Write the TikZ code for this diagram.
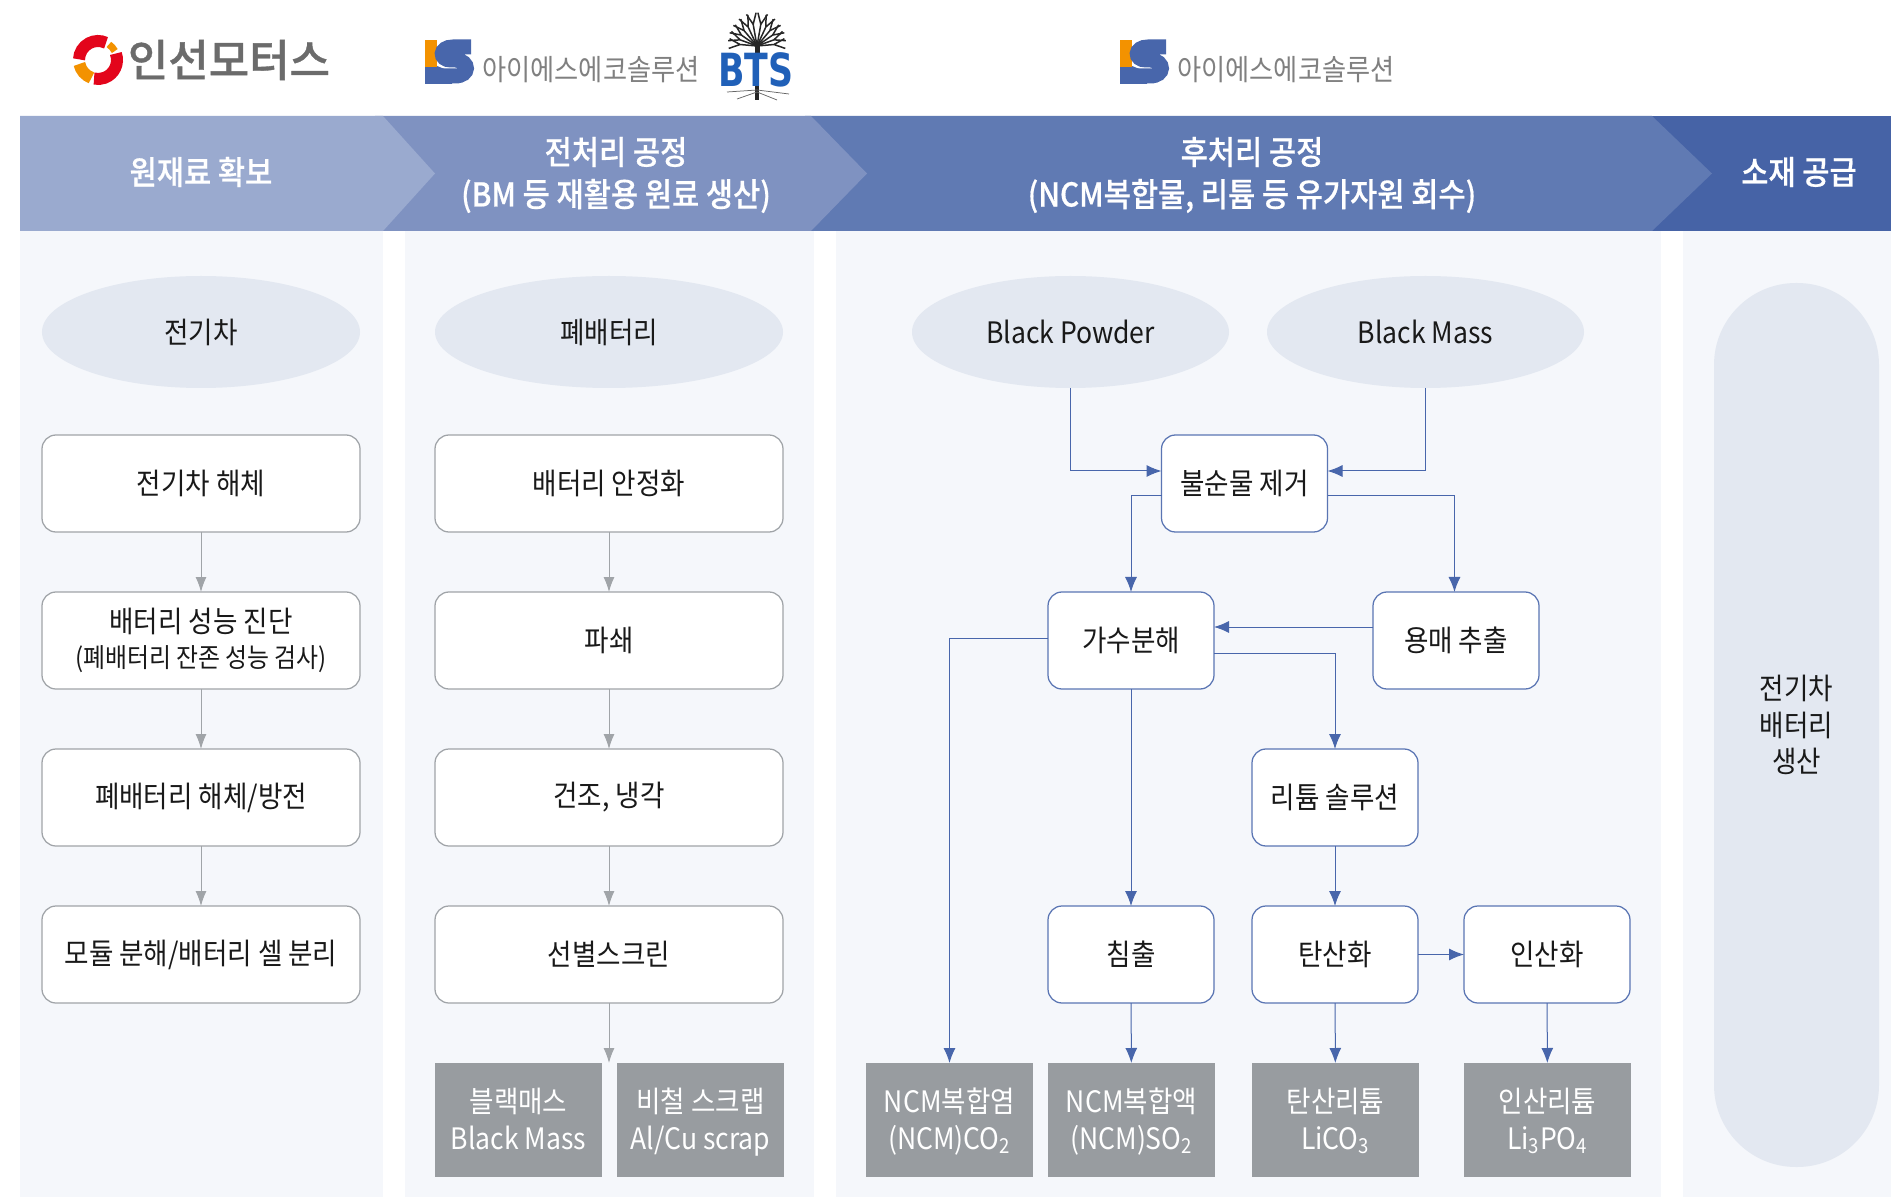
\documentclass[tikz,border=0pt]{standalone}
\usepackage{fontspec}
\setmainfont{Noto Sans CJK KR}[FakeStretch=0.9]
\newfontfamily\medfont{Noto Sans CJK KR Medium}[FakeStretch=0.9, FakeBold=0.5]
\newfontfamily\logofont{Noto Sans CJK KR Medium}[FakeStretch=1.0, FakeBold=0.8]
\newfontfamily\btsfont{DejaVu Sans}[FakeStretch=0.76]
\usetikzlibrary{positioning}
\usetikzlibrary{shapes.geometric}
\usetikzlibrary{arrows.meta}

\definecolor{headone}{HTML}{9AAACF}
\definecolor{headtwo}{HTML}{7F92C1}
\definecolor{headthree}{HTML}{607AB3}
\definecolor{headfour}{HTML}{4663A6}
\definecolor{panelbg}{HTML}{F5F7FB}
\definecolor{ovalbg}{HTML}{E3E8F1}
\definecolor{flowblue}{HTML}{4866AB}
\definecolor{flowgray}{HTML}{A0A4A8}
\definecolor{matgray}{HTML}{989CA0}
\definecolor{logored}{HTML}{E3051B}
\definecolor{logoorange}{HTML}{F39200}
\definecolor{btsblue}{HTML}{2060B8}

\newcommand{\matlines}[2]{\rule{0pt}{18.7pt}#1\\\strut #2}

\begin{document}
\begin{tikzpicture}[x=0.2mm, y=0.2mm,
                    bodytext/.style={font=\fontsize{16.8pt}{21pt}\selectfont, text=black!90, align=center, inner sep=0pt, outer sep=0pt},
                    headtext/.style={font=\medfont\fontsize{18.7pt}{24pt}\selectfont, text=white, align=center, inner sep=0pt},
                    oval/.style={bodytext, ellipse, fill=ovalbg, minimum height=22.4mm},
                    graybox/.style={bodytext, draw=flowgray, fill=white, line width=.25mm, rounded corners=2.8mm, minimum height=19.4mm},
                    bluebox/.style={bodytext, draw=flowblue!90!white, fill=white, line width=.25mm, rounded corners=2.8mm, minimum height=19.4mm, minimum width=33.2mm},
                    matbox/.style={font=\fontsize{16.8pt}{21pt}\selectfont, text=white, align=center, inner sep=0pt, outer sep=0pt, fill=matgray, minimum width=33.4mm, minimum height=22.8mm},
                    grayline/.style={draw=flowgray, line width=.2mm, -{Latex[length=3mm,width=2.2mm]}},
                    blueline/.style={draw=flowblue, line width=.2mm, -{Latex[length=3mm,width=2.4mm]}},
                    islogo/.pic={
                        \fill[flowblue] (425,-66) -- (437,-66) -- (452,-72) -- (452,-84) -- (425,-84) -- cycle;
                        \fill[logoorange] (425,-40) rectangle (437,-67);
                        \draw[flowblue, line width=3mm] (471,-47) -- (453,-47) .. controls (439,-47) and (439,-60) .. (451,-60) -- (456,-60) .. controls (470,-61) and (470,-76) .. (455,-76) -- (436,-76);
                        \node[font=\fontsize{16.6pt}{18pt}\selectfont, text=black!50, inner sep=0pt] at (591,-70) {아이에스에코솔루션};
                    }]
    \useasboundingbox (0,0) rectangle (1891,-1197);
    % panels
    \fill[panelbg] (20,-231) rectangle (383,-1197);
    \fill[panelbg] (405,-231) rectangle (814,-1197);
    \fill[panelbg] (836,-231) rectangle (1661,-1197);
    \fill[panelbg] (1683,-231) rectangle (1891,-1197);
    % header arrows
    \fill[headfour] (1650,-116) rectangle (1891,-231);
    \fill[headthree] (805,-116) -- (1652,-116) -- (1712,-173.5) -- (1652,-231) -- (805,-231) -- cycle;
    \fill[headtwo] (375,-116) -- (811,-116) -- (867,-173.5) -- (811,-231) -- (375,-231) -- cycle;
    \fill[headone] (20,-116) -- (383,-116) -- (435,-173.5) -- (383,-231) -- (20,-231) -- cycle;
    \node[headtext] (headraw)  at (201,-172)  {원재료 확보};
    \node[headtext] (headpre)  at (616,-175)  {전처리 공정\\(BM 등 재활용 원료 생산)};
    \node[headtext] (headpost) at (1252,-175) {후처리 공정\\(NCM복합물, 리튬 등 유가자원 회수)};
    \node[headtext] (headsup)  at (1799,-172) {소재 공급};
    % logos
    \draw[logored, line width=2.4mm] (98,-60) ++(178:19) arc[start angle=178, end angle=65, radius=3.8mm];
    \draw[logored, line width=2.4mm] (98,-60) ++(20:19) arc[start angle=20, end angle=-102, radius=3.8mm];
    \draw[logoorange, line width=2.4mm] (98,-60) ++(192:19) arc[start angle=192, end angle=250, radius=3.8mm];
    \draw[logoorange, line width=1.4mm] (98,-60) ++(55:19) arc[start angle=55, end angle=28, radius=3.8mm];
    \node[font=\logofont\fontsize{25pt}{28pt}\selectfont, text=black!58, inner sep=0pt] (insun) at (229,-60) {인선모터스};
    \pic at (0,0) {islogo};
    \pic at (695,0) {islogo};
    \foreach \a/\r in {5/17,20/18,35/19,50/20,65/21,80/22,100/22,115/21,130/20,145/19,160/18,175/17}
        \draw[black!85, line width=.3mm] (757,-46) -- ++(\a:\r) -- ++(\a+24:12) ++(\a+24:-12) -- ++(\a-24:12);
    \draw[black!85, line width=1mm] (757,-53) -- (757,-44);
    \node[font=\btsfont\bfseries\fontsize{26pt}{28pt}\selectfont, text=btsblue, inner sep=0pt] (bts) at (756,-70) {BTS};
    \draw[black!85, line width=.9mm] (757,-86) -- (757,-100);
    \draw[black!60, line width=.15mm] (757,-90) -- (727,-92) (757,-90) -- (789,-94) (757,-92) -- (737,-99) (757,-92) -- (777,-100);
    % first column
    \node[oval, minimum width=63.6mm] (ev) at (201,-332) {전기차};
    \node[graybox, minimum width=63.6mm] (evcut) at (201,-483.5) {전기차 해체};
    \node[graybox, minimum width=63.6mm] (diag) [below=12mm of evcut] {배터리 성능 진단\\[-1pt]{\fontsize{15.1pt}{19pt}\selectfont (폐배터리 잔존 성능 검사)}};
    \node[graybox, minimum width=63.6mm] (disch) [below=12mm of diag] {폐배터리 해체/방전};
    \node[graybox, minimum width=63.6mm] (cell) [below=12mm of disch] {모듈 분해/배터리 셀 분리};
    % second column
    \node[oval, minimum width=69.6mm] (waste) at (609,-332) {폐배터리};
    \node[graybox, minimum width=69.6mm] (stable) at (609,-483.5) {배터리 안정화};
    \node[graybox, minimum width=69.6mm] (crush) [below=12mm of stable] {파쇄};
    \node[graybox, minimum width=69.6mm] (dry) [below=12mm of crush] {건조, 냉각};
    \node[graybox, minimum width=69.6mm] (screen) [below=12mm of dry] {선별스크린};
    \node[matbox] (bm) at (518.5,-1120) {\matlines{블랙매스}{Black Mass}};
    \node[matbox] (scrap) [right=3mm of bm] {\matlines{비철 스크랩}{Al/Cu scrap}};
    % third column
    \node[oval, minimum width=63.4mm] (powder) at (1070.5,-332) {Black Powder};
    \node[oval, minimum width=63.4mm] (mass) at (1425.5,-332) {Black Mass};
    \node[bluebox] (remove) at (1244.5,-483.5) {불순물 제거};
    \node[bluebox] (hydro) at (1131,-640.5) {가수분해};
    \node[bluebox] (solvent) at (1456,-640.5) {용매 추출};
    \node[bluebox] (lisol) at (1335,-797.5) {리튬 솔루션};
    \node[bluebox] (leach) at (1131,-954.5) {침출};
    \node[bluebox] (carbon) [below=12mm of lisol] {탄산화};
    \node[bluebox] (phos) [right=9.2mm of carbon] {인산화};
    \node[matbox] (ncmsalt) at (949.5,-1120) {\matlines{NCM복합염}{(NCM)CO\textsubscript{2}}};
    \node[matbox] (ncmsol) at (1131.5,-1120) {\matlines{NCM복합액}{(NCM)SO\textsubscript{2}}};
    \node[matbox] (lico) at (1335.5,-1120) {\matlines{탄산리튬}{LiCO\textsubscript{3}}};
    \node[matbox] (lipo) at (1547.5,-1120) {\matlines{인산리튬}{Li\textsubscript{3}PO\textsubscript{4}}};
    % last column
    \node[bodytext, fill=ovalbg, rounded corners=16.4mm, minimum width=33mm, minimum height=176.8mm] (prod) at (1796.5,-725) {전기차\\배터리\\생산};
    % lines
    \draw[grayline] (evcut) -- (diag);
    \draw[grayline] (diag) -- (disch);
    \draw[grayline] (disch) -- (cell);
    \draw[grayline] (stable) -- (crush);
    \draw[grayline] (crush) -- (dry);
    \draw[grayline] (dry) -- (screen);
    \draw[grayline] (screen.south) -- (screen.south |- bm.north);
    \draw[blueline] (powder.south) |- ([yshift=2.5mm]remove.west);
    \draw[blueline] (mass.south) |- ([yshift=2.5mm]remove.east);
    \draw[blueline] ([yshift=-2.5mm]remove.west) -| (hydro.north);
    \draw[blueline] ([yshift=-2.5mm]remove.east) -| ([xshift=-.3mm]solvent.north);
    \draw[blueline] ([yshift=2.7mm]solvent.west) -- ([yshift=2.7mm]hydro.east);
    \draw[blueline] ([yshift=.5mm]hydro.west) -| (ncmsalt.north);
    \draw[blueline] ([yshift=-2.5mm]hydro.east) -| (lisol.north);
    \draw[blueline] (hydro) -- (leach);
    \draw[blueline] (lisol) -- (carbon);
    \draw[blueline] (carbon) -- (phos);
    \draw[blueline] (leach) -- (ncmsol);
    \draw[blueline] (carbon) -- (lico);
    \draw[blueline] (phos) -- (lipo);
\end{tikzpicture}
\end{document}
